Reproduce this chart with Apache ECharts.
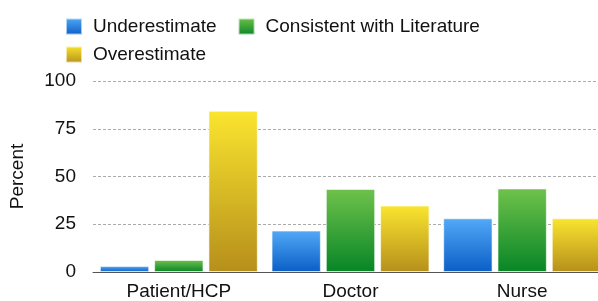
<!DOCTYPE html>
<html>
<head>
<meta charset="utf-8">
<script src="https://cdn.jsdelivr.net/npm/echarts@6/dist/echarts.min.js"></script>
<style>
  html, body { margin: 0; padding: 0; background: #fff; }
  #chart { width: 598px; height: 301px; }
</style>
</head>
<body>
<div id="chart"></div>
<script>
// data
const categories = ['Patient/HCP', 'Doctor', 'Nurse']
const underestimate = [3.1, 21.7, 28.1]
const consistent = [6.3, 43.5, 43.75]
const overestimate = [84.4, 34.8, 28.1]
const yTicks = [0, 25, 50, 75, 100]

const font = 'Liberation Sans, Arial, Helvetica, sans-serif'

function grad(top, bottom) {
  return new echarts.graphic.LinearGradient(0, 0, 0, 1, [
    { offset: 0, color: top },
    { offset: 1, color: bottom }
  ])
}

const colors = {
  under: grad('#52a9f7', '#0a5ec6'),
  cons: grad('#6fc24b', '#078526'),
  over: grad('#fae52f', '#b68f1b')
}

const chart = echarts.init(document.getElementById('chart'))

const legendText = { fontSize: 19, color: '#111', fontFamily: font, padding: [0, 0, 0, 6] }

chart.setOption({
  animation: false,
  legend: [
    {
      data: ['Underestimate', 'Consistent with Literature'],
      left: 60,
      top: 12,
      itemWidth: 16,
      itemHeight: 16,
      itemGap: 21,
      icon: 'rect',
      textStyle: legendText
    },
    {
      data: ['Overestimate'],
      left: 60,
      top: 40,
      itemWidth: 16,
      itemHeight: 16,
      icon: 'rect',
      textStyle: legendText
    }
  ],
  grid: {
    left: 93,
    width: 515,
    top: 81,
    bottom: 29,
    outerBoundsMode: 'none'
  },
  xAxis: {
    type: 'category',
    data: categories,
    axisLine: { lineStyle: { color: '#555', width: 1 } },
    axisTick: { show: false },
    axisLabel: { fontSize: 19, color: '#111', fontFamily: font, margin: 10 }
  },
  yAxis: {
    type: 'value',
    min: yTicks[0],
    max: yTicks[yTicks.length - 1],
    interval: 25,
    name: 'Percent',
    nameLocation: 'middle',
    nameGap: 66,
    nameTextStyle: { fontSize: 19, color: '#111', fontFamily: font },
    axisLine: { show: false },
    axisTick: { show: false },
    axisLabel: { fontSize: 19, color: '#111', fontFamily: font, margin: 17 },
    splitLine: { lineStyle: { color: '#aaa', type: [3, 2], width: 1 } }
  },
  series: [
    {
      name: 'Underestimate',
      type: 'bar',
      data: underestimate,
      barGap: '10%',
      barCategoryGap: '8%',
      itemStyle: { color: colors.under, borderColor: 'rgba(255,255,255,0.6)', borderWidth: 1 }
    },
    {
      name: 'Consistent with Literature',
      type: 'bar',
      data: consistent,
      itemStyle: { color: colors.cons, borderColor: 'rgba(255,255,255,0.6)', borderWidth: 1 }
    },
    {
      name: 'Overestimate',
      type: 'bar',
      data: overestimate,
      itemStyle: { color: colors.over, borderColor: 'rgba(255,255,255,0.6)', borderWidth: 1 }
    }
  ]
})
</script>
</body>
</html>
